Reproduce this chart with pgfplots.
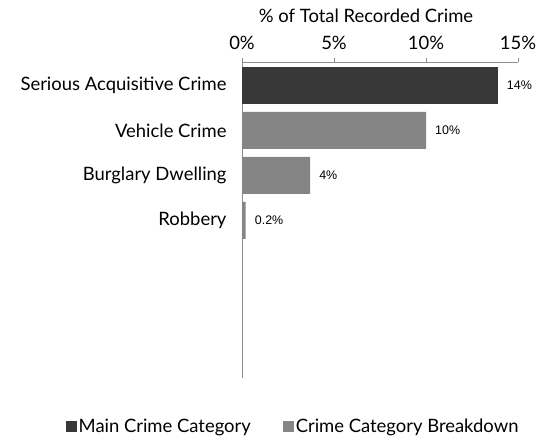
\documentclass[border=0pt]{standalone}
\usepackage{fontspec}
\setmainfont{Lato}
\newfontfamily\arialfont{Liberation Sans}
\usepackage{pgfplots}
\pgfplotsset{compat=1.18}
\definecolor{maindark}{HTML}{383838}
\definecolor{breakgray}{HTML}{858585}
\definecolor{axisgray}{HTML}{8C8C8C}

\begin{document}
\begin{tikzpicture}[x=1bp,y=1bp]
\path[use as bounding box] (0,0) rectangle (537,438);
\begin{axis}[
  at={(242bp,60bp)}, anchor=south west,
  scale only axis, width=276bp, height=316bp,
  font=\fontsize{18.5}{22}\selectfont,
  xbar, bar shift=0pt, bar width=0.82,
  xmin=0, xmax=15, ymin=-0.52, ymax=6.5, y dir=reverse,
  axis x line=top, axis y line=left,
  axis line style={draw=axisgray, line width=0.8pt, -},
  xtick={0,5,10,15},
  xticklabels={0\%,5\%,10\%,15\%},
  tick style={draw=axisgray, line width=0.8pt},
  tick align=outside, major tick length=4bp,
  xticklabel style={yshift=5bp},
  ytick={0,1,2,3},
  yticklabels={Serious Acquisitive Crime,Vehicle Crime,Burglary Dwelling,Robbery},
  ytick style={draw=none},
  yticklabel style={xshift=-8bp},
  xlabel={\% of Total Recorded Crime},
  xlabel style={xshift=-14bp, yshift=6bp},
  /pgf/number format/assume math mode=true,
  point meta=explicit symbolic,
  nodes near coords={\pgfplotspointmeta\%},
  nodes near coords style={anchor=west, inner sep=0pt, xshift=9bp, font=\arialfont\fontsize{12.5}{15}\selectfont, text=black},
  legend columns=2,
  legend style={draw=none, fill=none, at={(0.185,-0.152)}, anchor=center,
    font=\fontsize{18.5}{22}\selectfont,
    /tikz/every even column/.append style={column sep=30bp}},
]
\addplot[fill=maindark, draw=none,
  legend image code/.code={\fill[maindark] (3bp,-5.5bp) rectangle (14bp,5.5bp);}]
  coordinates {(13.9,0) [14]};
\addlegendentry{Main Crime Category}
\addplot[fill=breakgray, draw=none,
  legend image code/.code={\fill[breakgray] (3bp,-5.5bp) rectangle (14bp,5.5bp);}]
  coordinates {(10.0,1) [10] (3.7,2) [4] (0.2,3) [0.2]};
\addlegendentry{Crime Category Breakdown}
\end{axis}
\end{tikzpicture}
\end{document}
